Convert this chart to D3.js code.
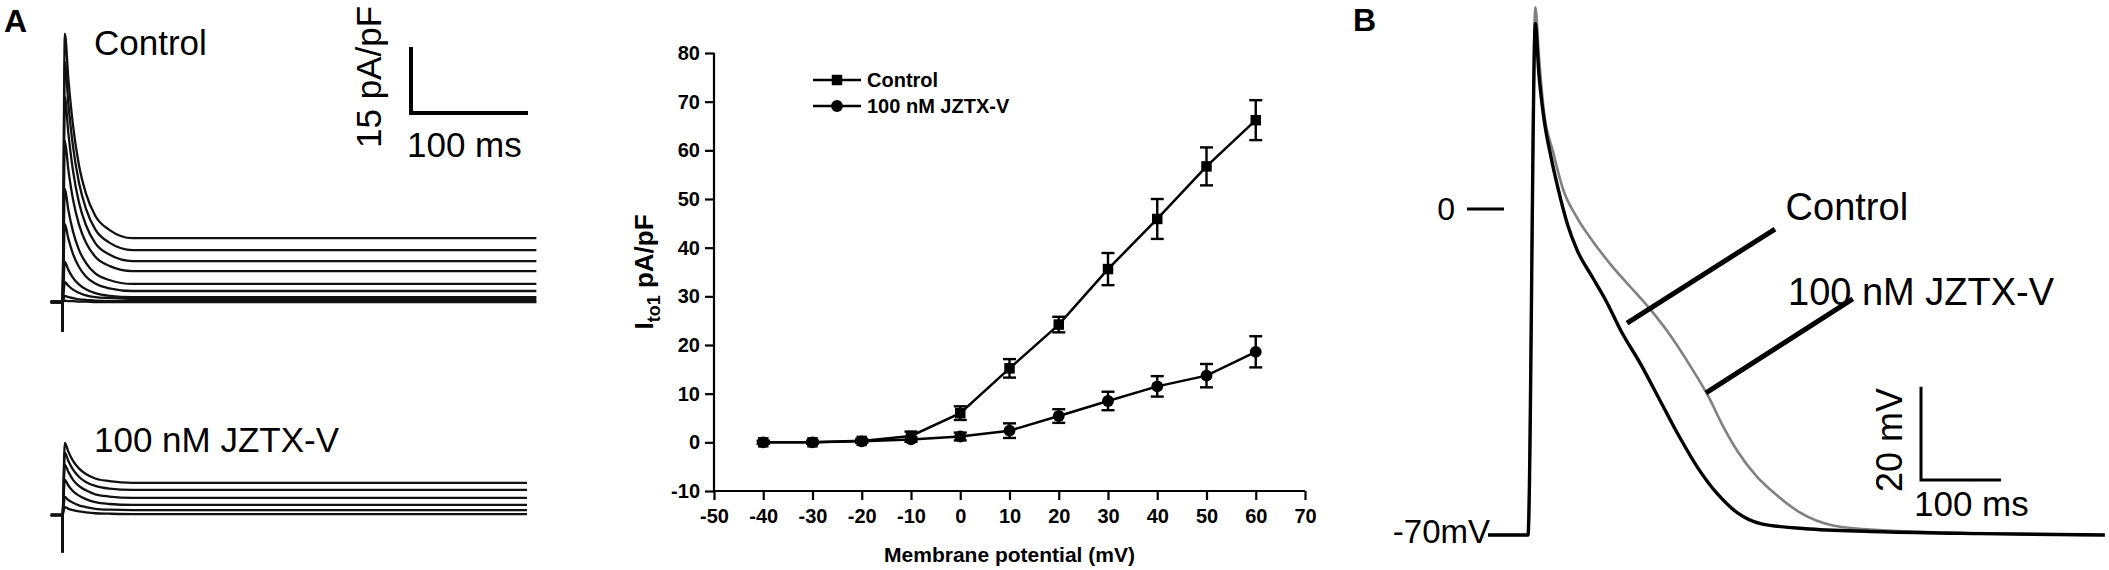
<!DOCTYPE html>
<html>
<head>
<meta charset="utf-8">
<script src="https://cdn.jsdelivr.net/npm/d3@7"></script>
<style>
  body { margin: 0; background: #fff; }
  svg { display: block; }
</style>
</head>
<body>
<div class="figure"></div>
<script>
/*---------------------------Init---------------------------*/

const FIG_WIDTH = 2109;
const FIG_HEIGHT = 570;
const SANS = "'Liberation Sans', Arial, sans-serif";

// panel A, current traces (ms, pA/pF)
const TRACE_T_CONTROL = [-10, 0, 2, 5, 9, 14, 20, 28, 40, 60, 405];
const TRACE_T_JZTX = [-10, 0, 2, 5, 9, 14, 20, 28, 40, 60, 397];
const CONTROL_SWEEPS = [
    [0, 0, 61.0, 50.8, 40.1, 31.2, 24.7, 19.6, 16.4, 14.5, 14.5],
    [0, 0, 54.5, 45.1, 35.3, 27.2, 21.2, 16.5, 13.5, 11.8, 11.8],
    [0, 0, 46.6, 38.4, 29.8, 22.7, 17.5, 13.4, 10.8, 9.3, 9.3],
    [0, 0, 36.6, 30.1, 23.3, 17.7, 13.5, 10.3, 8.2, 7.0, 7.0],
    [0, 0, 25.7, 20.9, 16.0, 11.9, 8.9, 6.5, 5.0, 4.1, 4.1],
    [0, 0, 17.7, 14.4, 10.9, 8.0, 5.8, 4.2, 3.1, 2.5, 2.5],
    [0, 0, 9.1, 7.3, 5.5, 4.0, 2.9, 2.0, 1.4, 1.1, 1.1],
    [0, 0, 4.5, 3.7, 2.8, 2.1, 1.5, 1.1, 0.9, 0.7, 0.7],
    [0, 0, 1.4, 1.1, 0.9, 0.6, 0.5, 0.3, 0.2, 0.2, 0.2],
    [0, 0, 0.3, 0.2, 0.2, 0.1, 0.1, 0, 0, 0, 0]
];
const JZTX_SWEEPS = [
    [0, 0, 16.4, 14.4, 12.3, 10.6, 9.3, 8.3, 7.7, 7.3, 7.3],
    [0, 0, 14.1, 12.3, 10.3, 8.7, 7.5, 6.6, 6.0, 5.7, 5.7],
    [0, 0, 11.4, 9.8, 8.0, 6.6, 5.6, 4.7, 4.2, 3.9, 3.9],
    [0, 0, 8.0, 6.7, 5.4, 4.4, 3.6, 2.9, 2.5, 2.3, 2.3],
    [0, 0, 4.1, 3.4, 2.8, 2.2, 1.8, 1.4, 1.2, 1.1, 1.1],
    [0, 0, 1.8, 1.4, 1.1, 0.8, 0.6, 0.4, 0.3, 0.2, 0.2]
];
const ARTIFACT_CONTROL = -6.8;
const ARTIFACT_JZTX = -8.6;

// panel A, I-V curve
const IV_V = [-40, -30, -20, -10, 0, 10, 20, 30, 40, 50, 60];
const IV_CONTROL = [0, 0, 0.3, 1.3, 6.0, 15.2, 24.2, 35.6, 45.9, 56.7, 66.2];
const IV_CONTROL_SEM = [0.3, 0.3, 0.4, 0.9, 1.4, 1.9, 1.6, 3.3, 4.1, 3.9, 4.1];
const IV_JZTX = [0, 0, 0.2, 0.6, 1.2, 2.4, 5.4, 8.5, 11.5, 13.7, 18.6];
const IV_JZTX_SEM = [0.3, 0.3, 0.3, 0.5, 0.8, 1.5, 1.4, 1.9, 2.1, 2.4, 3.2];
const IV_X_TICKS = [-50, -40, -30, -20, -10, 0, 10, 20, 30, 40, 50, 60, 70];
const IV_Y_TICKS = [-10, 0, 10, 20, 30, 40, 50, 60, 70, 80];
const IV_SERIES = ["Control", "100 nM JZTX-V"];

// panel B, action potentials (ms, mV)
const AP_T_CONTROL = [-50, 0, 9.2, 13.5, 19.5, 28.6, 37.7, 49.7, 61.8, 80, 98.1, 116.3, 140.5, 164.7, 188.9, 213.1, 237.4, 261.5, 291.8, 352.3, 443, 564, 721];
const AP_V_CONTROL = [-70, -70, 39.8, 29.3, 19.9, 11.3, 4.3, -3.5, -9.0, -14.5, -19.9, -26.2, -33.2, -41.0, -48.8, -55.8, -61.3, -65.2, -67.6, -68.7, -69.3, -69.7, -70];
const AP_T_JZTX = [-50, 0, 9.2, 13.5, 19.5, 31.6, 43.7, 61.8, 80, 104.2, 128.4, 152.6, 176.9, 201, 225.3, 243.4, 261.5, 285.8, 310, 340.2, 382.6, 443, 534, 721];
const AP_V_JZTX = [-70, -70, 43.3, 33.2, 21.5, 12.1, 4.3, -2.0, -6.7, -12.1, -16.8, -21.5, -26.9, -33.2, -40.2, -46.5, -51.9, -57.4, -61.3, -65.2, -68.0, -69.0, -69.5, -70];
// label pointers, [t, mV] start -> end
const AP_POINTERS = [
    [[308.8, -4.3], [123.8, -24.5]],
    [[406, -19.3], [222.5, -39.5]]
];

/*---------------------------Draw---------------------------*/

const svg = d3.select(".figure").append("svg")
    .attr("width", FIG_WIDTH)
    .attr("height", FIG_HEIGHT)
    .style("background-color", "#fff");

//panel letters

svg.append("text").attr("x", 4).attr("y", 32).text("A")
    .style("font", `bold 32px ${SANS}`);
svg.append("text").attr("x", 1353).attr("y", 31).text("B")
    .style("font", `bold 32px ${SANS}`);

/*----- current traces -----*/

const xTrace = d3.scaleLinear().domain([0, 100]).range([62.5, 179.5]);
const yTop = d3.scaleLinear().domain([0, 15]).range([302, 236]);
const yBottom = d3.scaleLinear().domain([0, 15]).range([515, 449]);

const drawSweeps = (sweeps, times, yScale, artifact) => {
    const g = svg.append("g");
    const line = d3.line()
        .x((d, i) => xTrace(times[i]))
        .y(d => yScale(d))
        .curve(d3.curveMonotoneX);

    g.selectAll(".sweep")
        .data(sweeps)
        .enter()
        .append("path")
        .attr("class", "sweep")
        .attr("d", line)
        .attr("fill", "none")
        .attr("stroke", "#111")
        .attr("stroke-width", 2.3);

    g.append("line")
        .attr("x1", xTrace(0)).attr("x2", xTrace(0))
        .attr("y1", yScale(0)).attr("y2", yScale(artifact))
        .attr("stroke", "#111")
        .attr("stroke-width", 3);
}

drawSweeps(CONTROL_SWEEPS, TRACE_T_CONTROL, yTop, ARTIFACT_CONTROL);
drawSweeps(JZTX_SWEEPS, TRACE_T_JZTX, yBottom, ARTIFACT_JZTX);

svg.append("text").attr("x", 94).attr("y", 55).text("Control")
    .style("font", `35px ${SANS}`);
svg.append("text").attr("x", 94).attr("y", 452).text("100 nM JZTX-V")
    .style("font", `35px ${SANS}`);

//scale bar

const barX = 411;
const barY = 113;
const barLen = xTrace(100) - xTrace(0);
const barHeight = yTop(0) - yTop(15);

svg.append("path")
    .attr("d", `M${barX},${barY - barHeight}V${barY}H${barX + barLen}`)
    .attr("fill", "none")
    .attr("stroke", "#000")
    .attr("stroke-width", 4);

svg.append("text")
    .attr("transform", `translate(381,${barY - barHeight / 2 - 3}) rotate(-90)`)
    .attr("text-anchor", "middle")
    .text("15 pA/pF")
    .style("font", `35px ${SANS}`);

svg.append("text").attr("x", 407).attr("y", 157).text("100 ms")
    .style("font", `35px ${SANS}`);

/*----- I-V curve -----*/

const xScale = d3.scaleLinear().domain([-50, 70]).range([714, 1305]);
const yScale = d3.scaleLinear().domain([-10, 80]).range([491, 53]);

const abscissa = d3.axisBottom(xScale).tickValues(IV_X_TICKS)
    .tickFormat(d => String(d)).tickSize(9).tickPadding(9);
const xAxis = svg.append("g")
    .attr("transform", `translate(0,${yScale(-10)})`)
    .call(abscissa);

const ordinate = d3.axisLeft(yScale).tickValues(IV_Y_TICKS)
    .tickFormat(d => String(d)).tickSize(9).tickPadding(5);
const yAxis = svg.append("g")
    .attr("transform", `translate(${xScale(-50)},0)`)
    .call(ordinate);

[xAxis, yAxis].forEach(ax => {
    ax.select(".domain").attr("stroke-width", 2.2);
    ax.selectAll(".tick line").attr("stroke-width", 2.2);
    ax.selectAll(".tick text")
        .style("font", `bold 20px ${SANS}`)
        .attr("fill", "#000");
});

// domain lines without the outer ticks
xAxis.select(".domain").attr("d", `M${xScale(-50)},0H${xScale(70)}`);
yAxis.select(".domain").attr("d", `M0,${yScale(-10)}V${yScale(80)}`);

svg.append("text")
    .attr("x", (xScale(-50) + xScale(70)) / 2)
    .attr("y", 562)
    .attr("text-anchor", "middle")
    .text("Membrane potential (mV)")
    .style("font", `bold 21px ${SANS}`);

const yTitle = svg.append("text")
    .attr("transform", `translate(653,${yScale(35)}) rotate(-90)`)
    .attr("text-anchor", "middle")
    .style("font", `bold 26px ${SANS}`);
yTitle.append("tspan").text("I");
yTitle.append("tspan").attr("dy", 7).style("font-size", "18px").text("to1");
yTitle.append("tspan").attr("dy", -7).text(" pA/pF");

const ivData = [
    { name: IV_SERIES[0], values: IV_CONTROL, sem: IV_CONTROL_SEM, marker: d3.symbolSquare },
    { name: IV_SERIES[1], values: IV_JZTX, sem: IV_JZTX_SEM, marker: d3.symbolCircle }
];

const ivLine = d3.line()
    .x((d, i) => xScale(IV_V[i]))
    .y(d => yScale(d));

const chart = svg.append("g");

ivData.forEach(s => {
    chart.append("path")
        .attr("d", ivLine(s.values))
        .attr("fill", "none")
        .attr("stroke", "#000")
        .attr("stroke-width", 2.5);

    // error bars
    const bars = chart.append("g").selectAll("g")
        .data(s.values)
        .enter()
        .append("g")
        .attr("stroke", "#000")
        .attr("stroke-width", 2.4);
    bars.append("line")
        .attr("x1", (d, i) => xScale(IV_V[i]))
        .attr("x2", (d, i) => xScale(IV_V[i]))
        .attr("y1", (d, i) => yScale(d + s.sem[i]))
        .attr("y2", (d, i) => yScale(d - s.sem[i]));
    [1, -1].forEach(sign => {
        bars.append("line")
            .attr("x1", (d, i) => xScale(IV_V[i]) - 6.5)
            .attr("x2", (d, i) => xScale(IV_V[i]) + 6.5)
            .attr("y1", (d, i) => yScale(d + sign * s.sem[i]))
            .attr("y2", (d, i) => yScale(d + sign * s.sem[i]));
    });
});

ivData.forEach(s => {
    chart.append("g").selectAll("path")
        .data(s.values)
        .enter()
        .append("path")
        .attr("transform", (d, i) => `translate(${xScale(IV_V[i])},${yScale(d)})`)
        .attr("d", d3.symbol().type(s.marker).size(110))
        .attr("fill", "#000");
});

//legend

const legend = svg.append("g").attr("transform", "translate(813,80)");
ivData.forEach((s, i) => {
    const row = legend.append("g").attr("transform", `translate(0,${i * 26})`);
    row.append("line")
        .attr("x1", 0).attr("x2", 48)
        .attr("stroke", "#000").attr("stroke-width", 2.5);
    row.append("path")
        .attr("transform", "translate(24,0)")
        .attr("d", d3.symbol().type(s.marker).size(110))
        .attr("fill", "#000");
    row.append("text")
        .attr("x", 54).attr("y", 7)
        .text(s.name)
        .style("font", `bold 20px ${SANS}`);
});

/*----- action potentials -----*/

const xAP = d3.scaleLinear().domain([0, 100]).range([1528, 1608]);
const yAP = d3.scaleLinear().domain([-70, 0]).range([535, 209]);

const apLine = times => d3.line()
    .x((d, i) => xAP(times[i]))
    .y(d => yAP(d))
    .curve(d3.curveMonotoneX);

svg.append("path")
    .attr("d", apLine(AP_T_JZTX)(AP_V_JZTX))
    .attr("fill", "none")
    .attr("stroke", "#808080")
    .attr("stroke-width", 2.6);

svg.append("path")
    .attr("d", apLine(AP_T_CONTROL)(AP_V_CONTROL))
    .attr("fill", "none")
    .attr("stroke", "#000")
    .attr("stroke-width", 3.4);

svg.append("g").selectAll("line")
    .data(AP_POINTERS)
    .enter()
    .append("line")
    .attr("x1", d => xAP(d[0][0])).attr("y1", d => yAP(d[0][1]))
    .attr("x2", d => xAP(d[1][0])).attr("y2", d => yAP(d[1][1]))
    .attr("stroke", "#000")
    .attr("stroke-width", 5);

svg.append("text").attr("x", xAP(322)).attr("y", 220).text("Control")
    .style("font", `38px ${SANS}`);
svg.append("text").attr("x", xAP(325)).attr("y", 305).text("100 nM JZTX-V")
    .style("font", `38px ${SANS}`);

// 0 mV marker and resting label
svg.append("line")
    .attr("x1", 1467).attr("x2", 1504)
    .attr("y1", yAP(0)).attr("y2", yAP(0))
    .attr("stroke", "#000").attr("stroke-width", 3);
svg.append("text").attr("x", 1455).attr("y", yAP(0) + 11).attr("text-anchor", "end").text("0")
    .style("font", `32px ${SANS}`);
svg.append("text").attr("x", 1490).attr("y", yAP(-70) + 8).attr("text-anchor", "end").text("-70mV")
    .style("font", `33px ${SANS}`);

//scale bar

const apBarX = 1921;
const apBarY = 480;
svg.append("path")
    .attr("d", `M${apBarX},${apBarY - (yAP(-50) - yAP(-30))}V${apBarY}H${apBarX + xAP(100) - xAP(0)}`)
    .attr("fill", "none")
    .attr("stroke", "#000")
    .attr("stroke-width", 3);
svg.append("text")
    .attr("transform", `translate(1902,${apBarY - 40}) rotate(-90)`)
    .attr("text-anchor", "middle")
    .text("20 mV")
    .style("font", `36px ${SANS}`);
svg.append("text").attr("x", 1914).attr("y", 516).text("100 ms")
    .style("font", `35px ${SANS}`);
</script>
</body>
</html>
